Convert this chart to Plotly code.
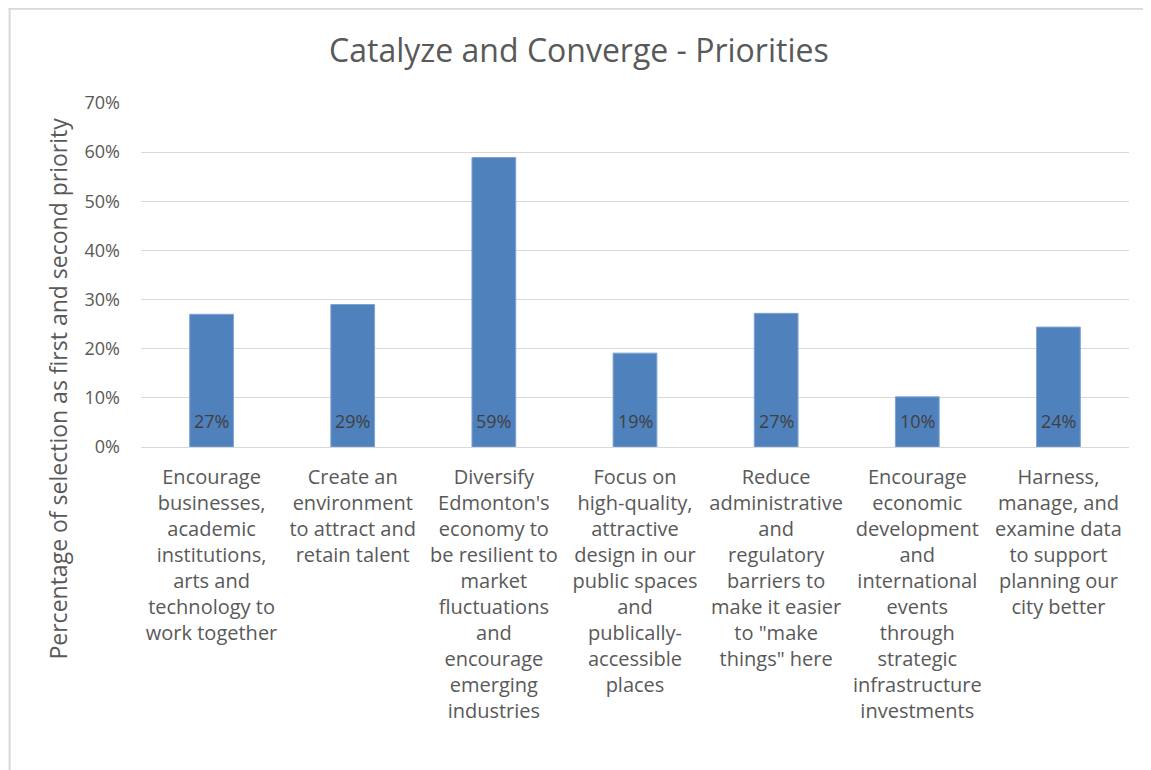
import plotly.graph_objects as go

categories = [
    "Encourage<br>businesses,<br>academic<br>institutions,<br>arts and<br>technology to<br>work together",
    "Create an<br>environment<br>to attract and<br>retain talent",
    "Diversify<br>Edmonton's<br>economy to<br>be resilient to<br>market<br>fluctuations<br>and<br>encourage<br>emerging<br>industries",
    "Focus on<br>high-quality,<br>attractive<br>design in our<br>public spaces<br>and<br>publically-<br>accessible<br>places",
    "Reduce<br>administrative<br>and<br>regulatory<br>barriers to<br>make it easier<br>to \"make<br>things\" here",
    "Encourage<br>economic<br>development<br>and<br>international<br>events<br>through<br>strategic<br>infrastructure<br>investments",
    "Harness,<br>manage, and<br>examine data<br>to support<br>planning our<br>city better",
]
values = [0.270, 0.290, 0.589, 0.191, 0.272, 0.102, 0.244]
y_tickvals = [0, 0.1, 0.2, 0.3, 0.4, 0.5, 0.6, 0.7]
y_ticktext = ["0%", "10%", "20%", "30%", "40%", "50%", "60%", "70%"]
y_title = "Percentage of selection as first and second priority"
chart_title = "Catalyze and Converge - Priorities"

FONT = "Open Sans"
GRAY = "#595959"

fig = go.Figure(
    go.Bar(
        x=categories,
        y=values,
        width=0.31,
        marker=dict(color="#4F81BD", line=dict(color="#7ea3d4", width=1)),
        cliponaxis=False,
    )
)

# value labels near the bottom of each bar
annotations = [
    dict(x=c, y=0, xref="x", yref="y", text=f"{v:.0%}", showarrow=False,
         yanchor="middle", yshift=26,
         font=dict(family=FONT, size=18, color="#404040"))
    for c, v in zip(categories, values)
]
# y-axis title (placed lower than plot centre, like the reference)
annotations.append(
    dict(x=-0.084, y=0.17, xref="paper", yref="paper", text=y_title,
         textangle=-90, showarrow=False, xanchor="center", yanchor="middle",
         font=dict(family=FONT, size=23, color=GRAY))
)

fig.update_layout(
    width=1151,
    height=770,
    paper_bgcolor="white",
    plot_bgcolor="white",
    margin=dict(l=133, r=30, t=95, b=331),
    title=dict(
        text=chart_title,
        x=0.496,
        xanchor="center",
        y=0.944,
        yanchor="middle",
        font=dict(family=FONT, size=32, color=GRAY),
    ),
    showlegend=False,
    annotations=annotations,
    shapes=[
        dict(type="line", xref="paper", yref="paper",
             x0=-0.134, x1=1.03, y0=1.274, y1=1.274,
             line=dict(color="#d9d9d9", width=2), layer="below"),
        dict(type="line", xref="paper", yref="paper",
             x0=-0.133, x1=-0.133, y0=-0.962, y1=1.274,
             line=dict(color="#d9d9d9", width=2), layer="below"),
    ],
)

fig.update_xaxes(
    tickfont=dict(family=FONT, size=20, color=GRAY),
    showgrid=False,
    showline=True,
    linecolor="#d9d9d9",
    ticks="",
    ticklabelstandoff=12,
)

fig.update_yaxes(
    range=[0, 0.7],
    tickvals=y_tickvals,
    ticktext=y_ticktext,
    tickfont=dict(family=FONT, size=18, color=GRAY),
    showgrid=True,
    gridcolor="#d9d9d9",
    gridwidth=1,
    zeroline=False,
    showline=False,
    ticklabelstandoff=20,
)

fig.write_html("out.html")
